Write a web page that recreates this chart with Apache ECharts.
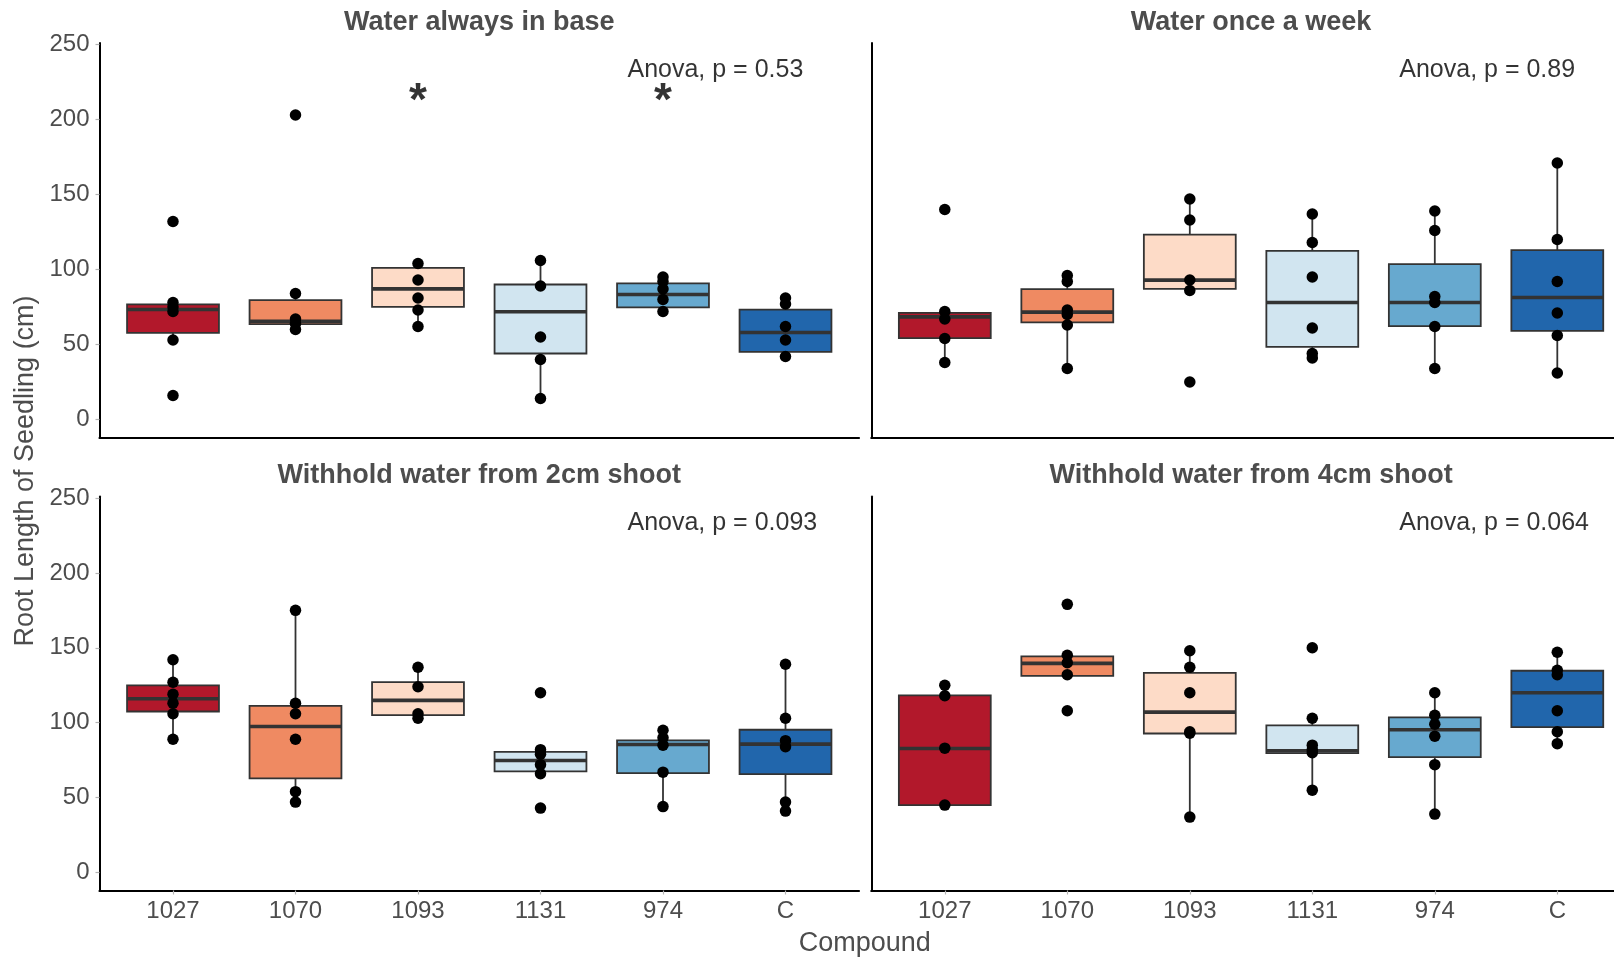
<!DOCTYPE html>
<html>
<head>
<meta charset="utf-8">
<title>Root length of seedling</title>
<script src="https://cdn.jsdelivr.net/npm/echarts@6/dist/echarts.min.js"></script>
<style>
  html, body { margin: 0; padding: 0; background: #fff; }
  #main { width: 1614px; height: 957px; }
</style>
</head>
<body>
<div id="main"></div>
<script>
// categories on the x axis
var compounds = ['1027', '1070', '1093', '1131', '974', 'C']
var panelTitles = ['Water always in base', 'Water once a week', 'Withhold water from 2cm shoot', 'Withhold water from 4cm shoot']
var anovaLabels = ['Anova, p = 0.53', 'Anova, p = 0.89', 'Anova, p = 0.093', 'Anova, p = 0.064']
var yTicks = [0, 50, 100, 150, 200, 250]
var fills = ['#B2182B', '#EF8A62', '#FDDBC7', '#D1E5F0', '#67A9CF', '#2166AC']

// box stats per compound: [lower whisker, Q1, median, Q3, upper whisker]
var boxAlways = [[53, 57.8, 73.3, 76.7, 78], [60, 63.6, 65.5, 79.6, 84], [62, 75.1, 87.1, 101.1, 104], [13.6, 44, 71.8, 90, 106], [72, 74.7, 83.3, 90.7, 95], [42, 45.1, 58, 73.3, 81]]
var boxWeekly = [[38, 54.2, 68.4, 71.1, 71.6], [34.4, 64.7, 71.6, 86.9, 96], [85.6, 87.1, 92.9, 123.3, 147.3], [40.7, 48.4, 78, 112.4, 137.3], [34, 62.2, 78, 103.6, 139.1], [31.1, 59.1, 81.3, 112.9, 170.7]]
var box2cm = [[89, 107.5, 116, 124.9, 141.8], [47.2, 62.8, 97.5, 111.3, 174.8], [103.1, 105.1, 114.9, 127.1, 137.4], [66.3, 67.5, 74.8, 80.6, 82.4], [44.1, 66.3, 85.5, 88.2, 95.3], [41.2, 65.7, 85.7, 95.3, 138.5]]
var box4cm = [[45, 45, 82.8, 118.2, 125.3], [131.6, 131.3, 139.6, 144.3, 144.7], [37.4, 92.8, 107.1, 133.3, 148], [55.2, 79.7, 81.3, 98.2, 102.9], [39, 77, 95.3, 103.5, 120.2], [86.4, 97.1, 120, 134.7, 147.4]]

// individual seedlings per compound
var ptsAlways = [[132, 78, 75, 72, 53, 16], [203, 84, 67, 64, 60], [104, 93, 81, 73, 62], [106, 89, 55, 40, 14], [95, 92, 87, 80, 72], [81, 77, 62, 53, 42]]
var ptsWeekly = [[140, 72, 67, 54, 38], [96, 92, 73, 70, 63, 34], [147, 133, 93, 86, 25], [137, 118, 95, 61, 44, 41], [139, 126, 82, 78, 62, 34], [171, 120, 92, 71, 56, 31]]
var pts2cm = [[142, 127, 119, 113, 106, 89], [175, 113, 106, 89, 54, 47], [137, 124, 106, 103], [120, 82, 79, 72, 66, 43], [95, 90, 85, 67, 44], [139, 103, 88, 84, 47, 41]]
var pts4cm = [[125, 118, 83, 45], [179, 145, 140, 132, 108], [148, 137, 120, 94, 93, 37], [150, 103, 85, 82, 80, 55], [120, 105, 99, 91, 72, 39], [147, 135, 132, 108, 94, 86]]

// significance stars (panel 0 only)
var starCompounds = ['1093', '974']
var starY = 219
var anovaX = 4.71
var anovaY = 233

var panelBoxes = [boxAlways, boxWeekly, box2cm, box4cm]
var panelPts = [ptsAlways, ptsWeekly, pts2cm, pts4cm]

var FONT = '"Liberation Sans", Arial, Helvetica, sans-serif'
var grids = [
  { left: 99.5, top: 43, width: 759.5, height: 394.5, outerBoundsMode: 'none' },
  { left: 871.3, top: 43, width: 759.5, height: 394.5, outerBoundsMode: 'none' },
  { left: 99.5, top: 496.5, width: 759.5, height: 394, outerBoundsMode: 'none' },
  { left: 871.3, top: 496.5, width: 759.5, height: 394, outerBoundsMode: 'none' }
]

var chart = echarts.init(document.getElementById('main'), null, { renderer: 'canvas' })

function renderBox(params, api) {
  var x = api.value(0)
  var lo = api.coord([x, api.value(1)])
  var q1 = api.coord([x, api.value(2)])
  var md = api.coord([x, api.value(3)])
  var q3 = api.coord([x, api.value(4)])
  var hi = api.coord([x, api.value(5)])
  var w = api.size([1, 0])[0] * 0.75
  var fill = fills[api.value(6)]
  var stroke = { stroke: '#333333', lineWidth: 1.8 }
  return {
    type: 'group',
    children: [
      { type: 'line', shape: { x1: hi[0], y1: hi[1], x2: q3[0], y2: q3[1] }, style: stroke },
      { type: 'line', shape: { x1: q1[0], y1: q1[1], x2: lo[0], y2: lo[1] }, style: stroke },
      { type: 'rect', shape: { x: q3[0] - w / 2, y: q3[1], width: w, height: q1[1] - q3[1] },
        style: { fill: fill, stroke: '#333333', lineWidth: 1.8 } },
      { type: 'line', shape: { x1: md[0] - w / 2, y1: md[1], x2: md[0] + w / 2, y2: md[1] },
        style: { stroke: '#333333', lineWidth: 3.6 } }
    ]
  }
}

var xAxes = [], yAxes = [], series = []
grids.forEach(function (g, i) {
  var bottomRow = i >= 2
  var leftCol = i % 2 === 0
  xAxes.push({
    type: 'value', gridIndex: i, min: 0.4, max: 6.6,
    axisLine: { show: true, onZero: false, lineStyle: { color: '#000', width: 2.2 } },
    axisTick: { show: bottomRow, length: 4, lineStyle: { color: '#B3B3B3', width: 1.2 }, customValues: [1, 2, 3, 4, 5, 6] },
    axisLabel: { show: bottomRow, margin: 9, color: '#4D4D4D', fontSize: 24, fontFamily: FONT,
      customValues: [1, 2, 3, 4, 5, 6], formatter: function (v) { return compounds[Math.round(v) - 1] } },
    splitLine: { show: false }
  })
  yAxes.push({
    type: 'value', gridIndex: i, min: -12, max: 251,
    axisLine: { show: true, onZero: false, lineStyle: { color: '#000', width: 2 } },
    axisTick: { show: leftCol, length: 4, lineStyle: { color: '#B3B3B3', width: 1.2 }, customValues: yTicks },
    axisLabel: { show: leftCol, margin: 10, color: '#4D4D4D', fontSize: 24, fontFamily: FONT, customValues: yTicks },
    splitLine: { show: false }
  })

  var boxData = panelBoxes[i].map(function (b, k) { return [k + 1].concat(b).concat([k]) })
  series.push({
    type: 'custom', xAxisIndex: i, yAxisIndex: i,
    renderItem: renderBox,
    encode: { x: 0, y: [1, 2, 3, 4, 5] },
    data: boxData, z: 2, silent: true
  })

  var ptData = []
  panelPts[i].forEach(function (vals, k) {
    vals.forEach(function (v) { ptData.push([k + 1, v]) })
  })
  series.push({
    type: 'scatter', xAxisIndex: i, yAxisIndex: i,
    symbolSize: 11.5, itemStyle: { color: '#000', opacity: 1 },
    data: ptData, z: 3, silent: true
  })

  series.push({
    type: 'scatter', xAxisIndex: i, yAxisIndex: i, symbolSize: 0,
    data: [[anovaX, anovaY]], z: 4, silent: true,
    label: { show: true, position: 'right', distance: 0, formatter: anovaLabels[i],
      color: '#000', fontSize: 25, fontFamily: FONT }
  })
})

series.push({
  type: 'scatter', xAxisIndex: 0, yAxisIndex: 0, symbolSize: 0, z: 4, silent: true,
  data: starCompounds.map(function (c) { return [compounds.indexOf(c) + 1, starY] }),
  label: { show: true, position: 'inside', formatter: '*', color: '#000', fontSize: 46,
    fontWeight: 'bold', fontFamily: FONT, offset: [0, 11] }
})

var texts = []
grids.forEach(function (g, i) {
  texts.push({ type: 'text', x: g.left + g.width / 2, y: i < 2 ? 23 : 475.5,
    style: { text: panelTitles[i], fill: '#4D4D4D', font: 'bold 27px ' + FONT,
      textAlign: 'center', textVerticalAlign: 'middle', align: 'center', verticalAlign: 'middle' } })
})
texts.push({ type: 'text', x: 864.8, y: 943.5,
  style: { text: 'Compound', fill: '#4D4D4D', font: '27px ' + FONT,
    textAlign: 'center', textVerticalAlign: 'middle', align: 'center', verticalAlign: 'middle' } })
texts.push({ type: 'text', x: 25.7, y: 471, rotation: Math.PI / 2,
  style: { text: 'Root Length of Seedling (cm)', fill: '#4D4D4D', font: '27px ' + FONT,
    textAlign: 'center', textVerticalAlign: 'middle', align: 'center', verticalAlign: 'middle' } })

chart.setOption({
  animation: false,
  backgroundColor: '#fff',
  grid: grids,
  xAxis: xAxes,
  yAxis: yAxes,
  series: series,
  graphic: texts
})
</script>
</body>
</html>
